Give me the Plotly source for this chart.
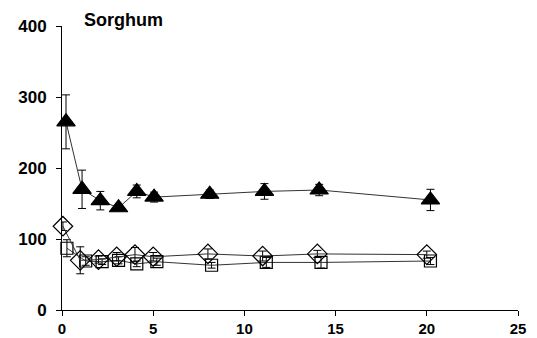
import plotly.graph_objects as go

# Triangles (filled)
tri_x = [0.22, 1.1, 2.1, 3.1, 4.1, 5.05, 8.1, 11.1, 14.1, 20.2]
tri_y = [265, 170, 154, 144, 167, 159, 163, 167, 169, 155]
tri_err = [38, 27, 13, 4, 9, 7, 6, 11, 8, 15]

# Diamonds (open)
dia_x = [0.05, 1.0, 2.0, 3.0, 4.0, 5.0, 8.0, 11.0, 14.0, 20.0]
dia_y = [118, 70, 71, 75, 78, 75, 79, 76, 79, 78]
dia_err = [6, 19, 5, 6, 10, 6, 7, 7, 5, 5]

# Squares (open)
sq_x = [0.27, 1.3, 2.2, 3.1, 4.1, 5.2, 8.2, 11.2, 14.2, 20.2]
sq_y = [87, 69, 68, 70, 65, 68, 63, 67, 67, 69]
sq_err = [12, 6, 4, 5, 4, 5, 4, 7, 8, 5]

x_ticks = [0, 5, 10, 15, 20, 25]
y_ticks = [0, 100, 200, 300, 400]

fig = go.Figure()

def add(x, y, err, symbol, size, fill):
    fig.add_trace(go.Scatter(
        x=x, y=y, mode="lines+markers", cliponaxis=False,
        line=dict(color="#333333", width=1),
        marker=dict(symbol=symbol, size=size, color=fill,
                    line=dict(color="black", width=1.2)),
        error_y=dict(type="data", array=err, color="black",
                     thickness=1, width=4),
        showlegend=False))

add(sq_x, sq_y, sq_err, "square-open", 12, "black")
add(dia_x, dia_y, dia_err, "diamond-open", 15, "black")
add(tri_x, tri_y, tri_err, "triangle-up", 16, "black")

FONT = "Liberation Sans, Arial, sans-serif"

fig.update_layout(
    width=537, height=338,
    margin=dict(l=62, r=19, t=26, b=28),
    plot_bgcolor="white", paper_bgcolor="white",
    font=dict(family=FONT, color="black"),
)
fig.add_annotation(text="<b>Sorghum</b>", x=0.044, y=1.02, xref="paper", yref="paper",
                   xanchor="left", yanchor="middle", showarrow=False,
                   font=dict(family=FONT, size=18, color="black"))

fig.update_xaxes(range=[0, 25], tickvals=x_ticks,
                 ticktext=[f"<b>{t}</b>" for t in x_ticks], automargin=False,
                 showline=True, linecolor="black", linewidth=1,
                 ticks="outside", ticklen=5, tickcolor="black", ticklabelstandoff=0,
                 showgrid=False, zeroline=False,
                 tickfont=dict(family=FONT, size=15, color="black"))
fig.update_yaxes(range=[0, 400], tickvals=y_ticks,
                 ticktext=[f"<b>{t}</b>" for t in y_ticks], automargin=False,
                 showline=True, linecolor="black", linewidth=1,
                 ticks="outside", ticklen=5, tickcolor="black", ticklabelstandoff=6,
                 showgrid=False, zeroline=False,
                 tickfont=dict(family=FONT, size=17, color="black"))

fig.write_html("out.html")
